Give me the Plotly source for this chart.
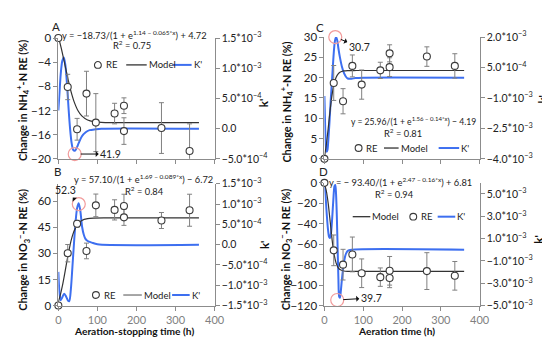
import plotly.graph_objects as go

# ---------------- data ----------------
hours = [0, 24, 48, 72, 96, 144, 168, 168, 264, 336]

re_a = [0, -8.1, -15.1, -9.2, -14.0, -12.5, -11.2, -15.4, -14.9, -18.7]
err_a = [0, 2.1, 1.8, 3.7, 4.8, 1.7, 1.3, 2.2, 4.2, 4.5]
re_b = [0, 30.1, 47.0, 31.4, 57.6, 55.0, 57.2, 50.7, 48.9, 54.8]
err_b = [0, 5.0, 2.0, 4.5, 6.5, 5.8, 6.8, 4.6, 4.6, 9.2]
re_c = [0, 18.7, 14.2, 22.9, 18.3, 21.8, 26.0, 22.6, 25.2, 22.9]
err_c = [0, 4.3, 3.1, 2.7, 3.6, 2.0, 2.1, 2.3, 2.4, 3.0]
re_d = [0, -66.0, -80.0, -70.0, -88.4, -92.2, -86.0, -93.1, -86.3, -90.9]
err_d = [0, 15, 15, 17, 14, 9, 14, 9.4, 18, 14]

model_hours = [0, 5, 10, 15, 20, 25, 30, 35, 40, 50, 60, 75, 90, 120, 180, 240, 300, 360]
model_a = [0.18, -1.03, -2.40, -3.88, -5.39, -6.87, -8.24, -9.45, -10.48, -11.99, -12.89,
           -13.57, -13.84, -13.99, -14.01, -14.01, -14.01, -14.01]
model_b = [2.18, 6.05, 10.98, 16.82, 23.11, 29.29, 34.80, 39.3, 42.76, 46.98, 48.93,
           49.99, 50.28, 50.37, 50.38, 50.38, 50.38, 50.38]
model_c = [0.32, 3.53, 7.75, 12.21, 15.94, 18.51, 20.04, 20.87, 21.32, 21.66, 21.74,
           21.76, 21.77, 21.77, 21.77, 21.77, 21.77, 21.77]
model_d = [-0.47, -7.99, -20.77, -38.26, -56.22, -69.97, -78.31, -82.68, -84.79, -86.22,
           -86.52, -86.58, -86.59, -86.59, -86.59, -86.59, -86.59, -86.59]

kp_hours_a = [0, 3, 6, 10, 14, 18, 22, 26, 30, 34, 38, 42, 46, 52, 60, 70, 80, 95, 110, 360]
kp_a = [3.0e-4, 6.0e-4, 9.0e-4, 1.12e-3, 1.18e-3, 1.05e-3, 7.5e-4, 3.5e-4, 0.0, -2.4e-4,
        -3.5e-4, -3.66e-4, -3.3e-4, -2.4e-4, -1.3e-4, -6e-5, -2.5e-5, -1e-5, 0.0, 0.0]

kp_hours_b = [0, 3, 6, 10, 15, 20, 25, 28, 32, 36, 40, 44, 48, 52, 56, 61, 65, 69, 75, 86, 100, 360]
kp_b = [-6.7e-4, -1.2e-3, -1.37e-3, -1.3e-3, -1.21e-3, -1.28e-3, -1.38e-3, -1.39e-3,
        -1.1e-3, -5.5e-4, 3e-5, 5.5e-4, 9.0e-4, 1.02e-3, 8.5e-4, 4.3e-4, 2.5e-4, 1.5e-4,
        9e-5, 5e-5, 1e-5, 0.0]

kp_hours_c = [0, 2, 4, 6, 8, 10, 13, 16, 20, 24, 27, 30, 33, 36, 40, 45, 50, 55, 60, 70, 80, 100, 360]
kp_c = [-9e-4, -2.5e-3, -3.4e-3, -3.65e-3, -3.55e-3, -3.1e-3, -2.2e-3, -1.2e-3, 0.0,
        1.2e-3, 1.8e-3, 2.0e-3, 1.85e-3, 1.45e-3, 1.0e-3, 5.5e-4, 2.5e-4, 6e-5, -4e-5,
        -5e-5, -2e-5, 0.0, 0.0]

kp_hours_d = [0, 3, 6, 9, 12, 14, 17, 20, 23, 26, 28, 30, 32, 34, 36, 38, 40, 42, 45, 50,
              55, 60, 70, 360]
kp_d = [5.9e-3, 4.8e-3, 3.2e-3, 1.9e-3, 1.15e-3, 1.05e-3, 1.5e-3, 2.8e-3, 4.5e-3, 5.7e-3,
        5.8e-3, 5.0e-3, 3.0e-3, 2.0e-4, -2.5e-3, -4.2e-3, -4.3e-3, -3.8e-3, -2.7e-3,
        -1.2e-3, -4e-4, -1e-4, 0.0, 0.0]

mark_hours = [41.9, 52.3, 28.0, 33.0]
mark_vals = [-4.2e-4, 1.0e-3, 2.0e-3, -4.5e-3]
mark_labels = ["41.9", "52.3", "30.7", "39.7"]

equations = [
    "y = −18.73/(1 + e<sup>1.14 − 0.065*x</sup>) + 4.72",
    "y = 57.10/(1 + e<sup>1.69 − 0.089*x</sup>) − 6.72",
    "y = 25.96/(1 + e<sup>1.56 − 0.14*x</sup>) − 4.19",
    "y = − 93.40/(1 + e<sup>2.47 − 0.16*x</sup>) + 6.81",
]
r2_labels = ["R<sup>2</sup> = 0.75", "R<sup>2</sup> = 0.84", "R<sup>2</sup> = 0.81", "R<sup>2</sup> = 0.94"]

left_titles = ["Change in NH<sub>4</sub><sup>+</sup>-N RE (%)",
               "Change in NO<sub>3</sub><sup>−</sup>-N RE (%)",
               "Change in NH<sub>4</sub><sup>+</sup>-N RE (%)",
               "Change in NO<sub>3</sub><sup>−</sup>-N RE (%)"]
x_titles = ["Aeration-stopping time (h)", "Aeration time (h)"]

left_ticks = [[-20, -16, -12, -8, -4, 0], [0, 15, 30, 45, 60],
              [0, 5, 10, 15, 20, 25, 30], [-120, -100, -80, -60, -40, -20, 0]]
left_ranges = [[-20, 0], [0, 70], [0, 30], [-120, 0]]
right_ticks = [[-5e-4, 0, 5e-4, 1e-3, 1.5e-3],
               [-1.5e-3, -1e-3, -5e-4, 0, 5e-4, 1e-3, 1.5e-3],
               [-4e-3, -2.5e-3, -1e-3, 5e-4, 2e-3],
               [-5e-3, -3e-3, -1e-3, 1e-3, 3e-3, 5e-3]]
right_ranges = [[-5e-4, 1.5e-3], [-1.5e-3, 1.5e-3], [-4e-3, 2e-3], [-5e-3, 6e-3]]
x_ticks = [0, 100, 200, 300, 400]


def sci(v):
    if v == 0:
        return "0.0"
    s = f"{v:.1e}"
    mant, ex = s.split("e")
    mant = mant.replace("-", "−")
    ex = str(int(ex)).replace("-", "−")
    return f"{mant}*10<sup>{ex}</sup>"


# ---------------- layout constants ----------------
W, H = 550, 340
FONT = "Lato"
BLUE = "#3d6ff0"
BLACK = "#333333"
AXIS = "#8c8c8c"
RED = "#f29b9b"


def px(x):
    return x / W


def py(y):
    return 1 - y / H


# pixel boxes: (left, right, top, bottom)
boxes = [(48.5, 208.5, 23, 149), (48.5, 208.5, 175, 302),
         (321, 480, 22, 149), (321, 480, 174, 302)]

fig = go.Figure()
layout = dict(
    width=W, height=H, margin=dict(l=0, r=0, t=0, b=0),
    paper_bgcolor="white", plot_bgcolor="white", showlegend=False,
    font=dict(family=FONT, size=11, color="#222222"),
)

datasets = [
    (re_a, err_a, model_a, kp_hours_a, kp_a),
    (re_b, err_b, model_b, kp_hours_b, kp_b),
    (re_c, err_c, model_c, kp_hours_c, kp_c),
    (re_d, err_d, model_d, kp_hours_d, kp_d),
]

annotations = []
shapes = []

for i, (re, err, model, kh, kv) in enumerate(datasets):
    n = i + 1
    xname = "x" if n == 1 else f"x{n}"
    yk = 2 * n - 1          # K' (base, right side)
    yr = 2 * n              # RE (overlay, left side)
    yk_name = "y" if yk == 1 else f"y{yk}"
    yr_name = f"y{yr}"
    l, r, t, b = boxes[i]
    bottom_row = i in (1, 3)

    layout["xaxis" if n == 1 else f"xaxis{n}"] = dict(
        domain=[px(l), px(r)], range=[0, 400], anchor=yk_name,
        tickvals=x_ticks, showticklabels=bottom_row, ticks="outside", ticklen=4,
        tickcolor=AXIS, showline=True, linecolor=AXIS, linewidth=1,
        showgrid=False, zeroline=False,
        tickfont=dict(size=11, color="#7f7f7f"),
    )
    layout["yaxis" if yk == 1 else f"yaxis{yk}"] = dict(
        domain=[py(b), py(t)], range=right_ranges[i], anchor=xname, side="right",
        tickvals=right_ticks[i], ticktext=[sci(v) for v in right_ticks[i]],
        ticks="outside", ticklen=4, tickcolor=AXIS, showline=True, linecolor=AXIS,
        linewidth=1, showgrid=False, zeroline=False, tickfont=dict(size=10.5),
    )
    layout[f"yaxis{yr}"] = dict(
        range=left_ranges[i], anchor=xname, side="left", overlaying=yk_name,
        tickvals=left_ticks[i], ticks="outside", ticklen=4, tickcolor=AXIS,
        showline=True, linecolor=AXIS, linewidth=1, showgrid=False, zeroline=False,
        tickfont=dict(size=11.5),
    )

    # K' curve
    fig.add_trace(go.Scatter(x=kh, y=kv, mode="lines", xaxis=xname, yaxis=yk_name,
                             line=dict(color=BLUE, width=2, shape="spline", smoothing=0.8),
                             hoverinfo="skip"))
    # highlight circle
    fig.add_trace(go.Scatter(x=[mark_hours[i]], y=[mark_vals[i]], mode="markers",
                             xaxis=xname, yaxis=yk_name, cliponaxis=False,
                             marker=dict(symbol="circle-open", size=13,
                                         line=dict(color=RED, width=1.2), color=RED)))
    # model
    fig.add_trace(go.Scatter(x=model_hours, y=model, mode="lines", xaxis=xname, yaxis=yr_name,
                             line=dict(color=BLACK, width=1.2, shape="spline", smoothing=0.6)))
    # RE
    fig.add_trace(go.Scatter(x=hours, y=re, mode="markers", xaxis=xname, yaxis=yr_name,
                             cliponaxis=False,
                             error_y=dict(type="data", array=err, color="#808080",
                                          thickness=1, width=2.5),
                             marker=dict(symbol="circle", size=7, color="white",
                                         line=dict(color="#3a3a3a", width=1.1))))

# annotated extremes (arrow head at the label)
offsets = [(36, 0), (-13, -14), (24, 10), (34, -2)]
for i in range(4):
    n = i + 1
    xname = "x" if n == 1 else f"x{n}"
    yk = 2 * n - 1
    yk_name = "y" if yk == 1 else f"y{yk}"
    annotations.append(dict(
        x=mark_hours[i], y=mark_vals[i], xref=xname, yref=yk_name,
        text=mark_labels[i], showarrow=True, arrowside="start", arrowhead=2,
        arrowsize=1, arrowwidth=1, arrowcolor="#111111", standoff=6,
        ax=offsets[i][0], ay=offsets[i][1], font=dict(size=10.5, color="#222222"),
    ))

# texts (pixel positions)
eq_pos = [(126, 20.2), (136, 170), (412.7, 109.3), (399, 173.5)]
eq_size = [9.3, 9.3, 8.6, 9.3]
r2_pos = [(124, 30.5), (137, 182.3), (402, 122.3), (393, 185.5)]
for i in range(4):
    annotations.append(dict(x=px(eq_pos[i][0]), y=py(eq_pos[i][1]), xref="paper", yref="paper",
                            text=equations[i], showarrow=False, xanchor="center", yanchor="middle",
                            font=dict(size=eq_size[i])))
    annotations.append(dict(x=px(r2_pos[i][0]), y=py(r2_pos[i][1]), xref="paper", yref="paper",
                            text=r2_labels[i], showarrow=False, xanchor="center", yanchor="middle",
                            font=dict(size=9.3)))

letters = [("A", 45.7, 11), ("B", 48, 162), ("C", 316.7, 12), ("D", 320, 162)]
for s, x, y in letters:
    annotations.append(dict(x=px(x), y=py(y), xref="paper", yref="paper", text=s,
                            showarrow=False, xanchor="center", yanchor="middle",
                            font=dict(size=11.5)))

ytitle_pos = [(13, 88), (13, 244), (283, 90), (282, 243)]
for i in range(4):
    annotations.append(dict(x=px(ytitle_pos[i][0]), y=py(ytitle_pos[i][1]), xref="paper",
                            yref="paper", text="<b>" + left_titles[i] + "</b>", textangle=-90,
                            showarrow=False, xanchor="center", yanchor="middle",
                            font=dict(size=10.8, color="#111111")))

k_pos = [(258, 90), (259, 238), (544, 87), (540, 233)]
for x, y in k_pos:
    annotations.append(dict(x=px(x), y=py(y), xref="paper", yref="paper", text="<b>k'</b>",
                            textangle=-90, showarrow=False, xanchor="center", yanchor="middle",
                            font=dict(size=11.5, color="#111111")))

xt_pos = [(126, 329), (395, 329)]
for (x, y), s in zip(xt_pos, x_titles):
    annotations.append(dict(x=px(x), y=py(y), xref="paper", yref="paper", text="<b>" + s + "</b>",
                            showarrow=False, xanchor="center", yanchor="middle",
                            font=dict(size=10.2, color="#111111")))


# ---------------- legends ----------------
def leg_line(x0, x1, y, color):
    shapes.append(dict(type="line", xref="paper", yref="paper", x0=px(x0), x1=px(x1),
                       y0=py(y), y1=py(y), line=dict(color=color, width=2 if color == BLUE else 1.3)))


def leg_circle(cx, cy):
    shapes.append(dict(type="circle", xref="paper", yref="paper", x0=px(cx - 3.5), x1=px(cx + 3.5),
                       y0=py(cy + 3.5), y1=py(cy - 3.5), fillcolor="white",
                       line=dict(color="#3a3a3a", width=1.1)))


def leg_text(x, y, s):
    annotations.append(dict(x=px(x), y=py(y), xref="paper", yref="paper", text=s,
                            showarrow=False, xanchor="left", yanchor="middle",
                            font=dict(size=9.5)))


# A
leg_circle(89, 51); leg_text(95, 51, "RE")
leg_line(118, 139, 51, BLACK); leg_text(139, 51, "Model")
leg_line(166, 185, 51, BLUE); leg_text(185, 51, "K'")
# B
leg_circle(87, 291); leg_text(93, 291, "RE")
leg_line(115, 134, 291, "#777777"); leg_text(134, 291, "Model")
leg_line(165, 183, 291, BLUE); leg_text(183, 291, "K'")
# C
leg_circle(356, 137.7); leg_text(362, 137.7, "RE")
leg_line(382, 397, 137.7, BLACK); leg_text(397, 137.7, "Model")
leg_line(438, 459, 137.7, BLUE); leg_text(459, 137.7, "K'")
# D
leg_line(350, 368, 209.3, BLACK); leg_text(368, 209.3, "Model")
leg_circle(412, 209.3); leg_text(418, 209.3, "RE")
leg_line(437, 455, 209.3, BLUE); leg_text(455, 209.3, "K'")

layout["annotations"] = annotations
layout["shapes"] = shapes
fig.update_layout(**layout)
fig.write_html("out.html")
